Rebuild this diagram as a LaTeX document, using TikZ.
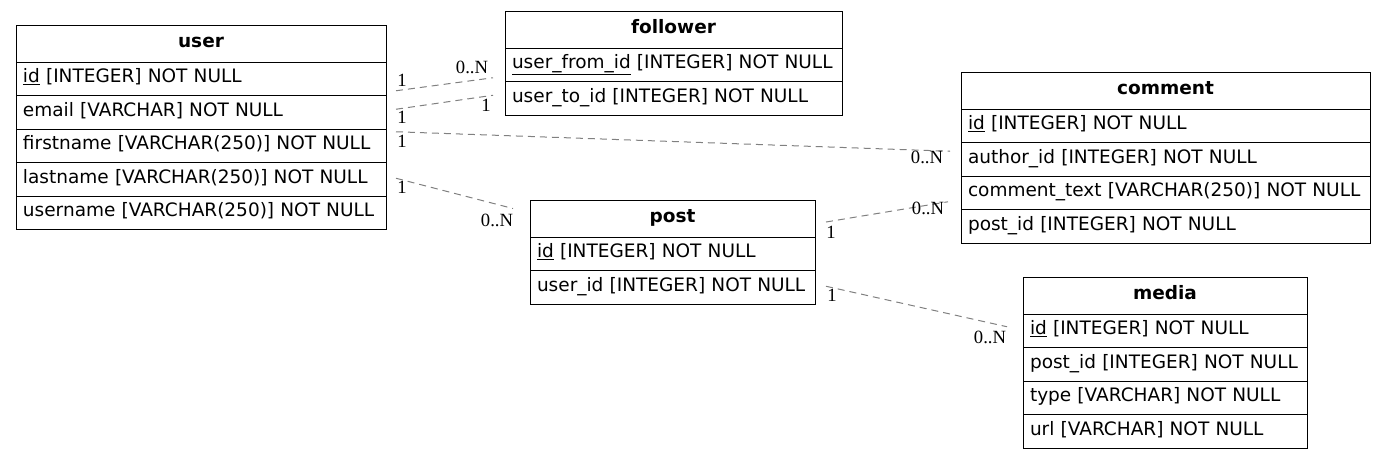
\documentclass[tikz,border=0pt]{standalone}
\usepackage{fontspec}
\setmainfont{DejaVu Sans}
\newfontfamily\cardfont{Liberation Serif}
\usetikzlibrary{positioning}

\begin{document}
\begin{tikzpicture}[x=1pt,y=-1pt,
  font=\fontsize{18.5}{22}\selectfont,
  tabhead/.style={draw,line width=1pt,minimum height=37pt,inner xsep=7pt,inner ysep=0pt,
    outer sep=0pt,text height=13pt,text depth=5pt,
    text width=#1,align=center,font=\fontsize{18.5}{22}\selectfont\bfseries},
  tabrow/.style={draw,line width=1pt,minimum height=33.5pt,inner xsep=7pt,inner ysep=0pt,
    outer sep=0pt,text height=13pt,text depth=5pt,
    text width=#1,align=left},
  rel/.style={draw=gray,line width=1pt,dash pattern=on 7pt off 5pt},
  card/.style={anchor=base,inner sep=0pt,font=\fontsize{18.67}{22}\selectfont\cardfont}]
\useasboundingbox (0,0) rectangle (1385,459);
% user
\node[tabhead=356pt,anchor=north west] (user) at (16,25) {user};
\node[tabrow=356pt,below=0pt of user]   (uid)    {\underline{id} [INTEGER] NOT NULL};
\node[tabrow=356pt,below=0pt of uid]    (uemail) {email [VARCHAR] NOT NULL};
\node[tabrow=356pt,below=0pt of uemail] (ufirst) {firstname [VARCHAR(250)] NOT NULL};
\node[tabrow=356pt,below=0pt of ufirst] (ulast)  {lastname [VARCHAR(250)] NOT NULL};
\node[tabrow=356pt,below=0pt of ulast]  (uname)  {username [VARCHAR(250)] NOT NULL};
% follower
\node[tabhead=323pt,anchor=north west] (follower) at (505,11) {follower};
\node[tabrow=323pt,below=0pt of follower] (fromid) {\underline{user\_from\_id} [INTEGER] NOT NULL};
\node[tabrow=323pt,below=0pt of fromid]   (toid)   {user\_to\_id [INTEGER] NOT NULL};
% comment
\node[tabhead=395pt,anchor=north west] (comment) at (961,72) {comment};
\node[tabrow=395pt,below=0pt of comment] (cid)     {\underline{id} [INTEGER] NOT NULL};
\node[tabrow=395pt,below=0pt of cid]     (cauthor) {author\_id [INTEGER] NOT NULL};
\node[tabrow=395pt,below=0pt of cauthor] (ctext)   {comment\_text [VARCHAR(250)] NOT NULL};
\node[tabrow=395pt,below=0pt of ctext]   (cpost)   {post\_id [INTEGER] NOT NULL};
% post
\node[tabhead=271pt,anchor=north west] (post) at (530,200) {post};
\node[tabrow=271pt,below=0pt of post] (pid)   {\underline{id} [INTEGER] NOT NULL};
\node[tabrow=271pt,below=0pt of pid]  (puser) {user\_id [INTEGER] NOT NULL};
% media
\node[tabhead=270pt,anchor=north west] (media) at (1023,277) {media};
\node[tabrow=270pt,below=0pt of media] (mid)   {\underline{id} [INTEGER] NOT NULL};
\node[tabrow=270pt,below=0pt of mid]   (mpost) {post\_id [INTEGER] NOT NULL};
\node[tabrow=270pt,below=0pt of mpost] (mtype) {type [VARCHAR] NOT NULL};
\node[tabrow=270pt,below=0pt of mtype] (murl)  {url [VARCHAR] NOT NULL};
% relations
\draw[rel] ([xshift=10pt,yshift=-12pt]uid.east) -- ([xshift=-12pt,yshift=-13pt]fromid.west);
\draw[rel] ([xshift=10pt,yshift=3pt]uemail.east) -- ([xshift=-12pt,yshift=3pt]toid.west);
\draw[rel] ([xshift=10pt,yshift=14pt]ufirst.east) -- ([xshift=-11pt,yshift=8pt]cauthor.west);
\draw[rel] ([xshift=10pt,yshift=1pt]ulast.east) -- ([xshift=-17pt,yshift=10pt]post.west);
\draw[rel] ([xshift=11pt,yshift=-3.5pt]post.east) -- ([xshift=-13pt,yshift=-9pt]ctext.west);
\draw[rel] ([xshift=11pt,yshift=1pt]puser.east) -- ([xshift=-16pt,yshift=4pt]mid.west);
% cardinalities
\node[card] (uid-one)      at (402,86)  {1};
\node[card] (fromid-many)  at (472,73)  {0..N};
\node[card] (uemail-one)   at (402,123) {1};
\node[card] (toid-one)     at (486,111) {1};
\node[card] (ufirst-one)   at (402,147) {1};
\node[card] (cauthor-many) at (927,163) {0..N};
\node[card] (ulast-one)    at (402,193) {1};
\node[card] (post-many)    at (497,226) {0..N};
\node[card] (post-one)     at (831,238) {1};
\node[card] (ctext-many)   at (928,214) {0..N};
\node[card] (puser-one)    at (832,301) {1};
\node[card] (mid-many)     at (990,343) {0..N};
\end{tikzpicture}
\end{document}
